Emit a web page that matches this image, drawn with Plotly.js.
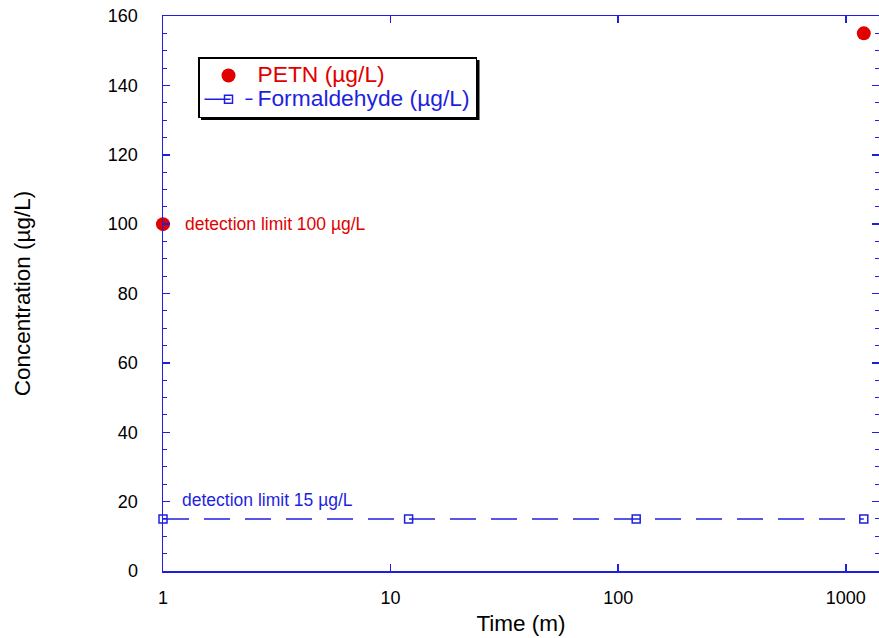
<!DOCTYPE html>
<html>
<head>
<meta charset="utf-8">
<script src="https://cdn.plot.ly/plotly-3.0.1.min.js"></script>
<style>html,body{margin:0;padding:0;background:#fff;}#chart{width:879px;height:638px;}</style>
</head>
<body>
<div id="chart"></div>
<script>
// Data
const formTime = [1, 12, 120, 1200];
const formConc = [15, 15, 15, 15];
const petnTime = [1, 1200];
const petnConc = [100, 155];
const xTickVals = [1, 10, 100, 1000];
const xTickText = ['1', '10', '100', '1000'];
const yTickVals = [0, 20, 40, 60, 80, 100, 120, 140, 160];

const blue = '#1f1fe0';
const red = '#e00000';
const font = 'Liberation Sans, Arial, Helvetica, sans-serif';

const traces = [
  {
    x: petnTime, y: petnConc, type: 'scatter', mode: 'markers',
    name: '<span style="color:' + red + ';font-size:22.8px">PETN (µg/L)</span>',
    marker: {color: red, size: 14, symbol: 'circle'},
    cliponaxis: false
  },
  {
    x: formTime, y: formConc, type: 'scatter', mode: 'lines+markers',
    name: '<span style="color:' + blue + ';font-size:22.8px">Formaldehyde (µg/L)</span>',
    line: {color: blue, width: 1.5, dash: '26px,15px'},
    marker: {color: blue, size: 8, symbol: 'square-open', line: {width: 1.5, color: blue}},
    cliponaxis: false
  }
];

const layout = {
  width: 879, height: 638,
  margin: {l: 163, r: 0, t: 16, b: 67},
  paper_bgcolor: '#fff', plot_bgcolor: '#fff',
  font: {family: font, size: 17, color: '#000'},
  showlegend: true,
  legend: {
    x: 0.0489, y: 0.926, xanchor: 'left', yanchor: 'top',
    bgcolor: '#fff', bordercolor: '#000', borderwidth: 1.5,
    font: {family: font, size: 16},
    itemwidth: 48
  },
  xaxis: {
    type: 'log', range: [0, 3.146],
    tickvals: xTickVals, ticktext: xTickText,
    ticks: 'inside', ticklen: 7, tickwidth: 1.5, tickcolor: blue,
    showline: true, linecolor: blue, linewidth: 1.5, mirror: 'ticks',
    showgrid: false, zeroline: false,
    ticklabelstandoff: 10,
    tickfont: {size: 18, color: '#000'},
    title: {text: 'Time (m)', font: {size: 22.5}, standoff: 8}
  },
  yaxis: {
    range: [0, 160], tickvals: yTickVals,
    ticks: 'inside', ticklen: 7, tickwidth: 1.5, tickcolor: blue,
    minor: {dtick: 5, ticks: 'inside', ticklen: 4, tickwidth: 1, tickcolor: blue},
    showline: true, linecolor: blue, linewidth: 1.5, mirror: 'ticks',
    showgrid: false, zeroline: false,
    ticklabelstandoff: 20,
    tickfont: {size: 18, color: '#000'},
    title: {text: 'Concentration (µg/L)', font: {size: 22.5}, standoff: 71}
  },
  shapes: [
    {type: 'rect', xref: 'paper', yref: 'paper', layer: 'above',
     x0: (201 - 163) / 716, x1: (479.5 - 163) / 716,
     y0: 1 - (120 - 16) / 555, y1: 1 - (60 - 16) / 555,
     fillcolor: '#000', line: {width: 0}}
  ],
  annotations: [
    {xref: 'x', yref: 'y', x: Math.log10(1), y: 100, text: 'detection limit 100 µg/L',
     showarrow: false, xanchor: 'left', yanchor: 'middle', xshift: 20,
     font: {family: font, size: 17.5, color: red}},
    {xref: 'x', yref: 'y', x: Math.log10(1), y: 15, text: 'detection limit 15 µg/L',
     showarrow: false, xanchor: 'left', yanchor: 'middle', xshift: 17, yshift: 19,
     font: {family: font, size: 17.5, color: blue}}
  ]
};

Plotly.newPlot('chart', traces, layout, {displayModeBar: false, staticPlot: true});
</script>
</body>
</html>
